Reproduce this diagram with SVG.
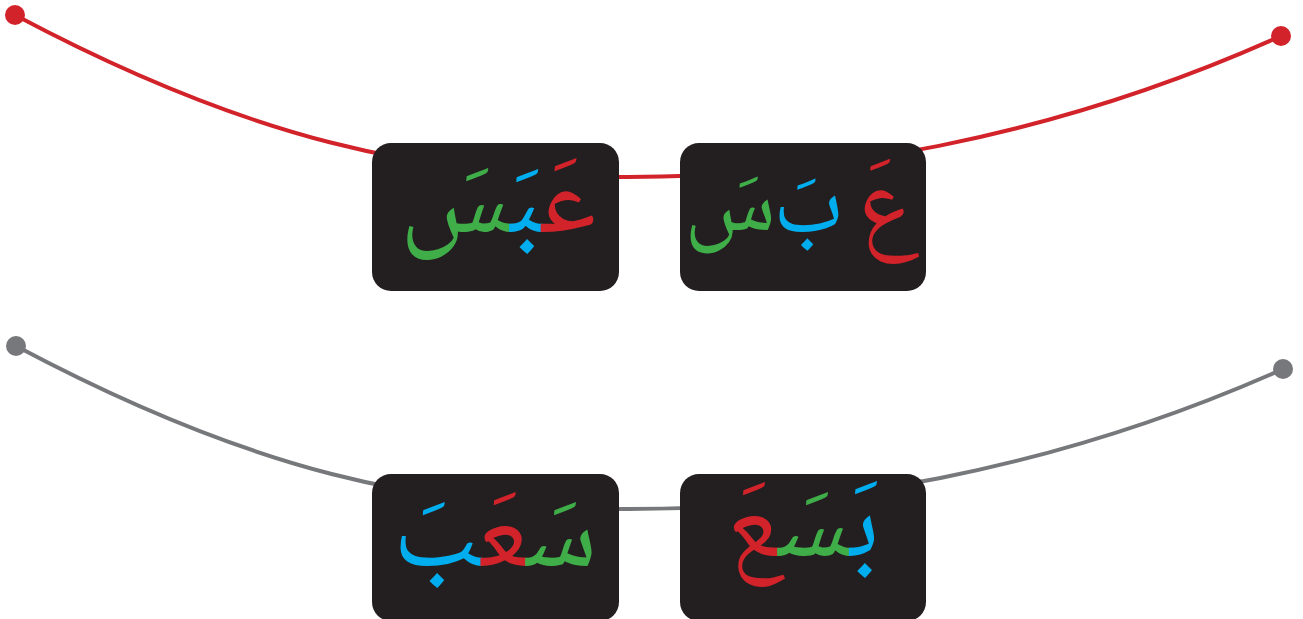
<svg xmlns="http://www.w3.org/2000/svg" width="1303" height="619" viewBox="0 0 1303 619">
<style>
.box{fill:#231f20}
.ar{font-family:"Noto Naskh Arabic","Noto Sans Arabic","DejaVu Sans",sans-serif;font-size:108px;direction:rtl}
.sep{font-size:90px}
.r{fill:#d2232a}.b{fill:#00aeef}.g{fill:#3fae49}
.line{fill:none;stroke-width:4}
</style>
<g id="connectors">
<path class="line" d="M15,15 C250,140 420,176 620,177 C820,178 1050,140 1281,36" stroke="#d2232a"/>
<circle cx="15" cy="15" r="10" fill="#d2232a"/>
<circle cx="1281" cy="36" r="10" fill="#d2232a"/>
<path class="line" d="M16,346 C251,471 421,508 621,509 C821,510 1052,472 1283,369" stroke="#77787b"/>
<circle cx="16" cy="346" r="10" fill="#77787b"/>
<circle cx="1283" cy="369" r="10" fill="#77787b"/>
</g>
<g id="node-abasa">
<rect class="box" x="372" y="143" width="247" height="148" rx="19"/>
<text class="ar" x="498" y="232" text-anchor="middle"><tspan class="r">عَ</tspan><tspan class="b">بَ</tspan><tspan class="g">سَ</tspan></text>
</g>
<g id="node-letters">
<rect class="box" x="680" y="143" width="246" height="148" rx="19"/>
<text class="ar r" x="887" y="236" text-anchor="middle" style="font-size:98px">عَ</text>
<text class="ar sep b" x="808" y="232" text-anchor="middle">بَ</text>
<text class="ar sep g" x="730" y="230" text-anchor="middle">سَ</text>
</g>
<g id="node-saaaba">
<rect class="box" x="372" y="474" width="247" height="147" rx="19"/>
<text class="ar" x="495" y="566" text-anchor="middle"><tspan class="g">سَ</tspan><tspan class="r">عَ</tspan><tspan class="b">بَ</tspan></text>
</g>
<g id="node-basaaa">
<rect class="box" x="680" y="474" width="246" height="147" rx="19"/>
<text class="ar" x="803" y="556" text-anchor="middle"><tspan class="b">بَ</tspan><tspan class="g">سَ</tspan><tspan class="r">عَ</tspan></text>
</g>
</svg>
